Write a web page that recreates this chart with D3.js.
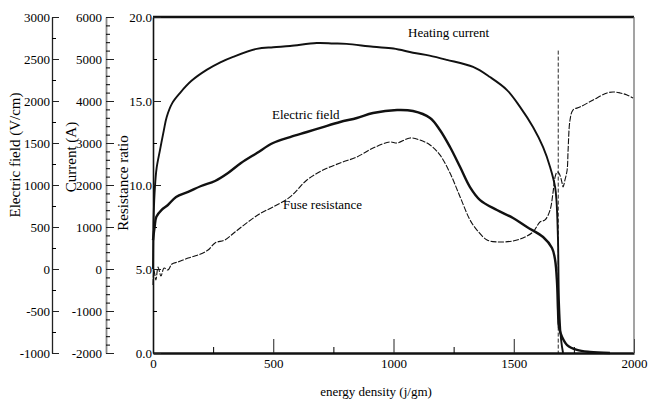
<!DOCTYPE html>
<html>
<head>
<meta charset="utf-8">
<script src="https://cdn.jsdelivr.net/npm/d3@7"></script>
<style>
  body { margin: 0; background: #fff; }
  svg { font-family: "Liberation Serif", "DejaVu Serif", serif; }
</style>
</head>
<body>
<svg id="chart" width="648" height="404"></svg>
<script>
// values

const xTicks = [0, 500, 1000, 1500, 2000];
const fieldTicks = [-1000, -500, 0, 500, 1000, 1500, 2000, 2500, 3000];
const currentTicks = [-2000, -1000, 0, 1000, 2000, 3000, 4000, 5000, 6000];
const ratioTicks = [0, 5, 10, 15, 20];

// Heating current (A)
const currentX = [0, 3, 8, 15, 29, 45, 57, 80, 112, 160, 223, 280, 333, 431, 500, 570, 681, 750, 805,
                  915, 1000, 1081, 1150, 1222, 1331, 1401, 1472, 1526, 1580, 1622, 1651, 1672, 1678,
                  1684, 1688, 1697, 1705];
const currentA = [0, 1300, 1950, 2400, 2830, 3300, 3620, 3950, 4190, 4480, 4740, 4920, 5050, 5240, 5280, 5310, 5380, 5370, 5360,
                  5290, 5250, 5150, 5080, 4980, 4810, 4570, 4260, 3860, 3380, 2900, 2430, 1950, 1600,
                  690, -740, -1690, -2000];

// Electric field (V/cm)
const fieldX = [0, 7, 14, 35, 62, 96, 146, 200, 258, 312, 366, 432, 499, 570, 640, 707, 778, 848, 915,
                1015, 1081, 1152, 1193, 1235, 1277, 1318, 1360, 1430, 1497, 1555, 1622, 1659, 1672,
                1680, 1684, 1688, 1701, 1722, 1763, 1817, 1900];
const fieldV = [345, 504, 623, 702, 762, 857, 917, 988, 1048, 1143, 1262, 1381, 1500, 1571, 1631, 1690, 1750, 1798, 1857,
                1893, 1881, 1798, 1655, 1452, 1214, 976, 821, 702, 607, 500, 381, 250, 107,
                -167, -488, -690, -810, -905, -964, -988, -1000];

// Fuse resistance (ratio)
const resX = [0, 4, 12, 21, 33, 46, 62, 79, 104, 146, 187, 229, 258, 299, 341, 395, 449, 499, 570, 640,
              707, 778, 848, 915, 985, 1015, 1069, 1110, 1152, 1193, 1235, 1277, 1318, 1347, 1389, 1430,
              1497, 1538, 1580, 1609, 1630, 1651, 1663, 1672, 1680, 1688, 1701, 1705, 1713, 1722, 1726,
              1734, 1746, 1775, 1830, 1888, 1913, 1942, 1971, 1996];
const resRatio = [4.05, 4.94, 4.35, 5.12, 4.58, 5.06, 4.94, 5.30, 5.42, 5.65, 5.83, 6.13, 6.55, 6.73, 7.20, 7.80, 8.33, 8.69, 9.29, 10.30,
                  10.89, 11.31, 11.67, 12.20, 12.56, 12.50, 12.80, 12.68, 12.38, 11.79, 10.71, 9.29, 7.92, 7.32, 6.73, 6.61,
                  6.67, 6.85, 7.20, 7.80, 7.92, 8.51, 9.52, 10.48, 10.77, 10.71, 10.12, 9.88, 10.30, 10.89, 12.08,
                  13.87, 14.46, 14.64, 15.06, 15.48, 15.54, 15.48, 15.36, 15.18];

// thin dashed marker line at fuse burst
const markerX = [1685, 1685];
const markerRatio = [18, 0];

const plot = { left: 153, right: 634, top: 17, bottom: 353 };
const fieldAxisX = 52;
const currentAxisX = 106;
const serif = '"Liberation Serif", "DejaVu Serif", serif';

const svg = d3.select("#chart");

const x = d3.scaleLinear().domain([0, 2000]).range([plot.left, plot.right]);
const yField = d3.scaleLinear().domain([-1000, 3000]).range([plot.bottom, plot.top]);
const yCurrent = d3.scaleLinear().domain([-2000, 6000]).range([plot.bottom, plot.top]);
const yRatio = d3.scaleLinear().domain([0, 20]).range([plot.bottom, plot.top]);

function styleAxis(g, width, color) {
    g.attr("font-family", serif).attr("font-size", 13);
    g.selectAll(".tick text")
        .style("font-family", serif)
        .style("font-size", "13px")
        .attr("fill", "#000");
    g.select(".domain").attr("stroke", color).attr("stroke-width", width);
    g.selectAll(".tick line").attr("stroke", "#222").attr("stroke-width", 1);
}

// x axis
svg.append("g")
    .attr("transform", `translate(0,${plot.bottom})`)
    .call(d3.axisBottom(x).tickValues(xTicks).tickFormat(d => String(d))
        .tickSizeInner(-14).tickSizeOuter(0).tickPadding(6))
    .call(g => styleAxis(g, 2.6, "#111"));
svg.append("g")
    .attr("transform", `translate(0,${plot.bottom})`)
    .call(d3.axisBottom(x).tickValues([250, 750, 1250, 1750]).tickSize(-6).tickFormat(""))
    .call(g => g.select(".domain").remove());

// frame: heavy top, thin right
svg.append("line")
    .attr("x1", plot.left).attr("x2", plot.right)
    .attr("y1", plot.top).attr("y2", plot.top)
    .attr("stroke", "#111").attr("stroke-width", 2.6);
svg.append("line")
    .attr("x1", plot.right).attr("x2", plot.right)
    .attr("y1", plot.top).attr("y2", plot.bottom)
    .attr("stroke", "#666").attr("stroke-width", 1.2);

// resistance ratio axis (plot's left edge)
svg.append("g")
    .attr("transform", `translate(${plot.left},0)`)
    .call(d3.axisLeft(yRatio).tickValues(ratioTicks).tickFormat(d3.format(".1f"))
        .tickSizeInner(-8).tickSizeOuter(0).tickPadding(1))
    .call(g => styleAxis(g, 1.6, "#111"));
svg.append("g")
    .attr("transform", `translate(${plot.left},0)`)
    .call(d3.axisLeft(yRatio).tickValues([2.5, 7.5, 12.5, 17.5]).tickSize(-4).tickFormat(""))
    .call(g => g.select(".domain").remove());

// electric field axis
svg.append("g")
    .attr("transform", `translate(${fieldAxisX},0)`)
    .call(d3.axisLeft(yField).tickValues(fieldTicks).tickFormat(d => String(d))
        .tickSizeInner(-7).tickSizeOuter(0).tickPadding(2))
    .call(g => styleAxis(g, 1.3, "#222"));
svg.append("g")
    .attr("transform", `translate(${fieldAxisX},0)`)
    .call(d3.axisLeft(yField).tickValues(d3.range(-750, 3000, 500)).tickSize(-4).tickFormat(""))
    .call(g => g.select(".domain").remove());

// current axis
svg.append("g")
    .attr("transform", `translate(${currentAxisX},0)`)
    .call(d3.axisLeft(yCurrent).tickValues(currentTicks).tickFormat(d => String(d))
        .tickSizeInner(-8).tickSizeOuter(0).tickPadding(4))
    .call(g => styleAxis(g, 1.8, "#888"));
svg.append("g")
    .attr("transform", `translate(${currentAxisX},0)`)
    .call(d3.axisLeft(yCurrent).tickValues(d3.range(-2000, 6001, 200).filter(v => v % 1000 !== 0))
        .tickSize(-4).tickFormat(""))
    .call(g => g.select(".domain").remove());

// series
function drawLine(xs, ys, yScale, width, dash) {
    const pts = xs.map((v, i) => [v, ys[i]]);
    svg.append("path")
        .datum(pts)
        .attr("fill", "none")
        .attr("stroke", "#111")
        .attr("stroke-width", width)
        .attr("stroke-dasharray", dash)
        .attr("stroke-linejoin", "round")
        .attr("d", d3.line()
            .x(d => x(d[0]))
            .y(d => yScale(d[1]))
            .curve(d3.curveCatmullRom.alpha(0.5)));
}

drawLine(markerX, markerRatio, yRatio, 0.9, "4,2");
drawLine(resX, resRatio, yRatio, 1.1, "6,1.5");
drawLine(currentX, currentA, yCurrent, 1.9, null);
drawLine(fieldX, fieldV, yField, 2.4, null);

// annotations
const notes = [
    { text: "Heating current", x: 408, y: 37 },
    { text: "Electric field", x: 272, y: 119 },
    { text: "Fuse resistance", x: 283, y: 209 }
];
svg.selectAll(".note")
    .data(notes)
    .join("text")
    .attr("class", "note")
    .attr("x", d => d.x)
    .attr("y", d => d.y)
    .attr("font-size", 13)
    .attr("fill", "#000")
    .text(d => d.text);

// axis titles
svg.append("text")
    .attr("x", 376).attr("y", 396)
    .attr("text-anchor", "middle")
    .attr("font-size", 13)
    .attr("fill", "#000")
    .text("energy density (j/gm)");

const titles = [
    { text: "Electric field (V/cm)", x: 15, y: 155 },
    { text: "Current (A)", x: 71, y: 157 },
    { text: "Resistance ratio", x: 123, y: 183 }
];
svg.selectAll(".ytitle")
    .data(titles)
    .join("text")
    .attr("class", "ytitle")
    .attr("transform", d => `translate(${d.x},${d.y}) rotate(-90)`)
    .attr("text-anchor", "middle")
    .attr("dy", "0.35em")
    .attr("font-size", 15)
    .attr("fill", "#000")
    .text(d => d.text);
</script>
</body>
</html>
